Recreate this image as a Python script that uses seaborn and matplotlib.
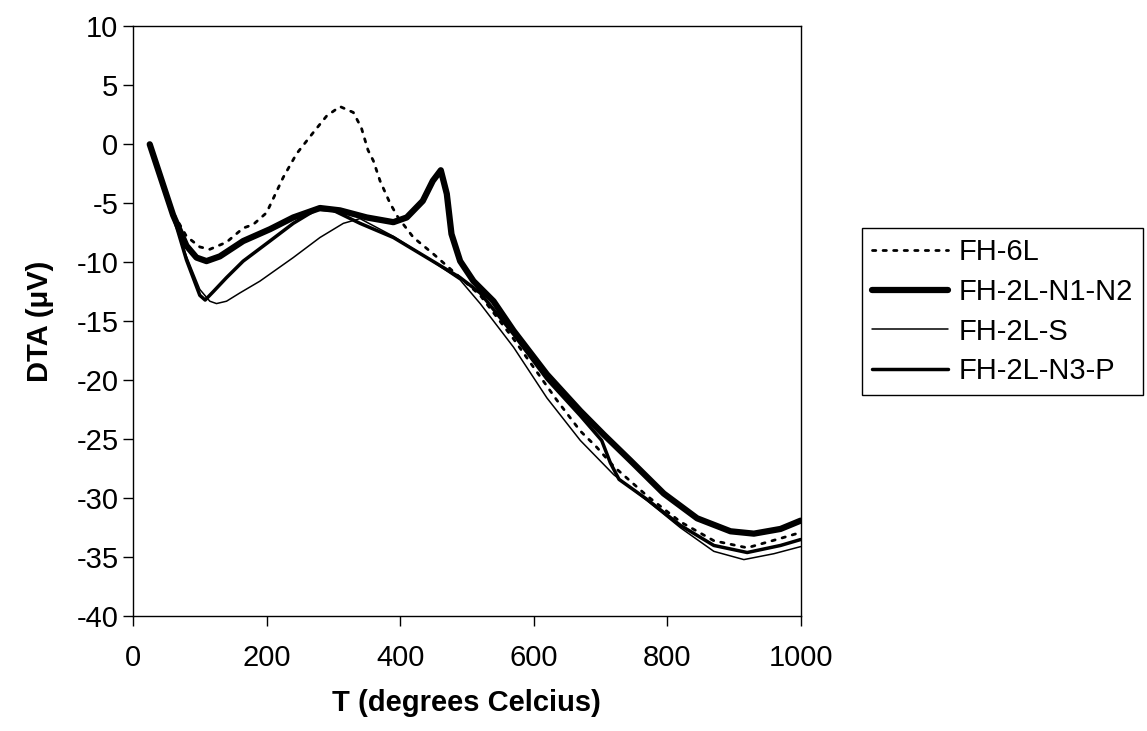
import matplotlib
matplotlib.use('Agg')
import matplotlib.pyplot as plt
import seaborn as sns
import pandas as pd

sns.set_style("ticks")
plt.rcParams['font.family'] = ['Liberation Sans', 'DejaVu Sans']
plt.rcParams['axes.unicode_minus'] = False
plt.rcParams['text.color'] = 'black'
plt.rcParams['axes.labelcolor'] = 'black'

# ------------------------------- datos
T_6L = [25, 60, 80, 100, 115, 140, 165, 180, 200, 225, 245, 270, 290, 310, 330, 342, 352, 360, 370,
        385, 397, 420, 450, 490, 520, 570, 635, 670, 695, 720, 770, 820, 870, 920, 970, 1000]
DTA_6L = [0, -5.8, -7.8, -8.7, -8.9, -8.3, -7.1, -6.8, -5.8, -2.8, -0.8, 1.0, 2.4, 3.2, 2.7, 1.4, -0.5, -1.4, -3.1,
          -5.0, -6.2, -7.9, -9.3, -11.3, -12.8, -16.5, -21.7, -24.3, -25.7, -27.3, -29.8, -32.0, -33.6, -34.2, -33.4, -32.9]

T_N1N2 = [25, 60, 80, 95, 110, 130, 165, 205, 240, 280, 310, 350, 390, 410, 434, 449, 461, 470, 477,
          490, 510, 540, 570, 620, 670, 705, 745, 795, 845, 895, 930, 970, 1000]
DTA_N1N2 = [0, -6.0, -8.6, -9.6, -9.9, -9.5, -8.2, -7.2, -6.2, -5.4, -5.6, -6.2, -6.6, -6.2, -4.8, -3.1, -2.2, -4.2, -7.6,
            -9.9, -11.6, -13.3, -15.8, -19.5, -22.6, -24.6, -26.8, -29.6, -31.7, -32.8, -33.0, -32.6, -31.9]

T_S = [25, 60, 80, 100, 115, 125, 140, 160, 190, 240, 280, 315, 340, 390, 440, 490, 520, 570, 620,
       670, 720, 770, 820, 870, 915, 960, 1000]
DTA_S = [0, -6.2, -9.5, -12.3, -13.3, -13.5, -13.3, -12.6, -11.6, -9.6, -7.9, -6.7, -6.3, -7.8, -9.6, -11.5, -13.5, -17.2, -21.5,
         -25.1, -28.0, -30.2, -32.5, -34.5, -35.2, -34.7, -34.1]

T_N3P = [25, 60, 80, 100, 108, 120, 140, 165, 205, 240, 275, 300, 340, 390, 440, 490, 520, 570, 620,
         670, 702, 715, 728, 770, 820, 870, 920, 970, 1000]
DTA_N3P = [0, -6.0, -9.8, -12.8, -13.2, -12.5, -11.3, -9.9, -8.2, -6.7, -5.5, -5.6, -6.7, -7.9, -9.6, -11.3, -12.6, -16.1, -19.9,
           -23.0, -25.1, -27.0, -28.4, -30.1, -32.3, -34.0, -34.6, -34.0, -33.5]

series = [
    ('FH-6L', T_6L, DTA_6L, dict(lw=2.0, ls=(0, (1.2, 2.6)))),
    ('FH-2L-N1-N2', T_N1N2, DTA_N1N2, dict(lw=4.5, ls='-')),
    ('FH-2L-S', T_S, DTA_S, dict(lw=1.1, ls='-')),
    ('FH-2L-N3-P', T_N3P, DTA_N3P, dict(lw=2.5, ls='-')),
]

fig = plt.figure(figsize=(11.47, 7.31), dpi=100)
ax = fig.add_axes([0.116, 0.157, 0.582, 0.807])

for nombre, t, v, estilo in series:
    df = pd.DataFrame({'T': t, 'DTA': v})
    sns.lineplot(data=df, x='T', y='DTA', ax=ax, color='black', label=nombre,
                 estimator=None, sort=False, linewidth=estilo['lw'], linestyle=estilo['ls'],
                 solid_capstyle='round', dash_capstyle='round')

ax.set_xlim(0, 1000)
ax.set_ylim(-40, 10)
ax.set_xticks([0, 200, 400, 600, 800, 1000])
ax.set_yticks(range(-40, 11, 5))
ax.tick_params(axis='both', labelsize=21, length=7, width=1, direction='out', colors='black')
ax.tick_params(axis='x', pad=13)
for s in ax.spines.values():
    s.set_color('black')
    s.set_linewidth(1.0)

ax.set_xlabel('T (degrees Celcius)', fontsize=21, fontweight='bold', labelpad=12, color='black')
ax.set_ylabel('DTA (\u03bcV)', fontsize=21, fontweight='bold', labelpad=16, color='black')

handles, labels = ax.get_legend_handles_labels()
ax.get_legend().remove()
leg = fig.legend(handles, labels, loc='upper left', bbox_to_anchor=(862 / 1147, 1 - 228 / 731),
                 fontsize=21, frameon=True, fancybox=False, framealpha=1, edgecolor='black',
                 handlelength=2.6, handletextpad=0.35, labelspacing=0.4, borderpad=0.35, borderaxespad=0)
leg.get_frame().set_linewidth(1.0)

plt.savefig('out.png', dpi=100)
